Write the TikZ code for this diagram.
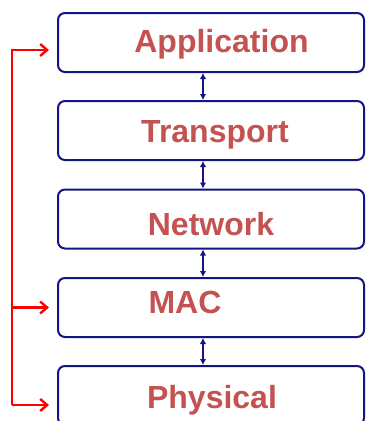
\documentclass[tikz,border=0pt]{standalone}
\usepackage{fontspec}
\setmainfont{Liberation Sans}
\usetikzlibrary{arrows.meta}
\definecolor{boxblue}{RGB}{20,20,130}
\definecolor{txtred}{RGB}{196,82,80}
\begin{document}
\begin{tikzpicture}[
    x=1pt, y=-1pt,
    layer/.style={draw=boxblue, line width=2pt, rounded corners=7pt, minimum width=306pt, minimum height=59pt, inner sep=0pt},
    layertxt/.style={text=txtred, font=\fontsize{32}{36}\selectfont\bfseries, anchor=base, inner sep=0pt},
    link/.style={draw=boxblue, line width=1.2pt, {Latex[length=6pt,width=6.5pt]}-{Latex[length=6pt,width=6.5pt]}},
    feed/.style={draw=red, line width=2.4pt, -{Straight Barb[length=7pt,width=12pt]}, shorten >=8pt}
  ]
  \useasboundingbox (0,0) rectangle (366,421);

  % the five layers
  \node [layer] (app) at (211,42.5) {};
  \node [layer] (trans) at (211,130.5) {};
  \node [layer] (net) at (211,219) {};
  \node [layer] (mac) at (211,307.5) {};
  \node [layer] (phy) at (211,395.5) {};

  \node [layertxt] (apptxt) at (221.5,52) {Application};
  \node [layertxt] (transtxt) at (215,142) {Transport};
  \node [layertxt] (nettxt) at (211,235) {Network};
  \node [layertxt] (mactxt) at (185,313) {MAC};
  \node [layertxt] (phytxt) at (212,408) {Physical};

  % between neighbours
  \draw [link] ([xshift=-8pt]app.south) -- ([xshift=-8pt]trans.north);
  \draw [link] ([xshift=-8pt]trans.south) -- ([xshift=-8pt]net.north);
  \draw [link] ([xshift=-8pt]net.south) -- ([xshift=-8pt]mac.north);
  \draw [link] ([xshift=-8pt]mac.south) -- ([xshift=-8pt]phy.north);

  % cross-layer feed
  \coordinate (bustop) at (12,50);
  \coordinate (busmid) at (12,307.5);
  \coordinate (busbot) at (12,405);
  \draw [feed] (busbot) -- (bustop) -- ([yshift=-7.5pt]app.west);
  \draw [feed] (busmid) -- (mac.west);
  \draw [feed] (busbot) -- ([yshift=-9.5pt]phy.west);

\end{tikzpicture}
\end{document}
